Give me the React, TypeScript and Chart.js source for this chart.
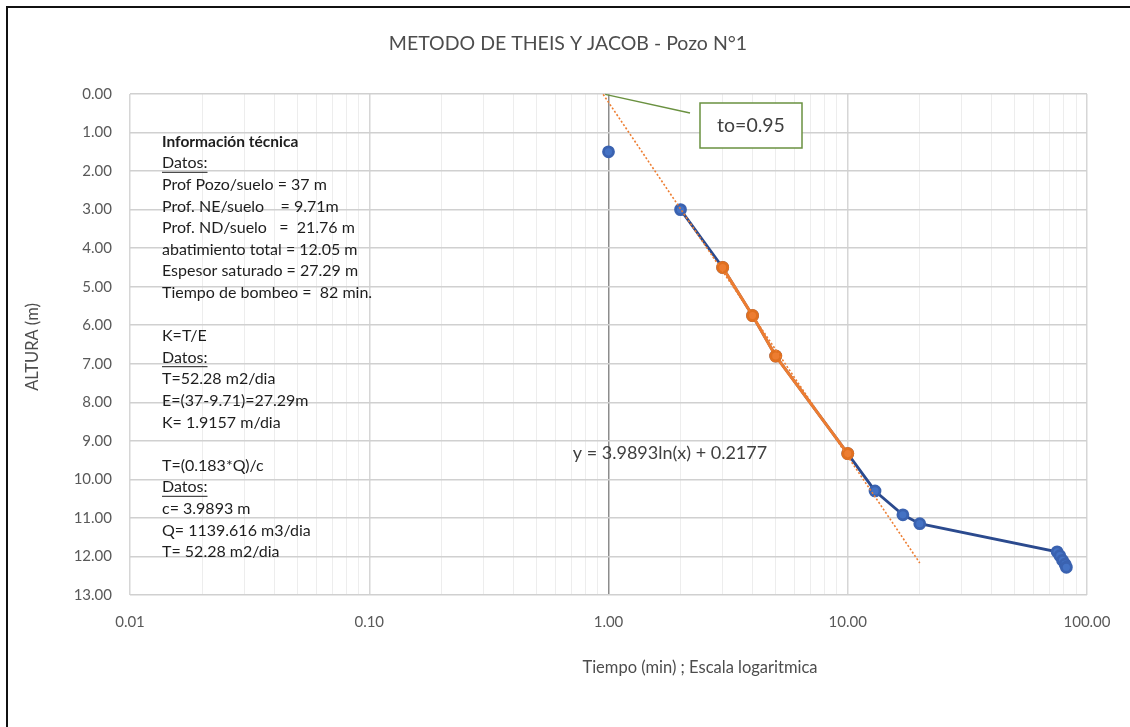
import React, { useEffect, useRef } from 'react';
import { Chart, registerables } from 'chart.js';
Chart.register(...registerables);

// ---- data ----
const timeMin = [1, 2, 3, 4, 5, 10, 13, 17, 20, 75, 77, 79, 81, 82];
const drawdown = [1.5, 3.0, 4.5, 5.75, 6.8, 9.33, 10.3, 10.92, 11.15, 11.88, 11.98, 12.1, 12.2, 12.28];
const fitTime = [3, 4, 5, 10];
const fitDrawdown = [4.5, 5.75, 6.8, 9.33];
const trendTime = [0.95, 20];
const trendDrawdown = [0.01, 12.17];

const decadeTicks = [0.01, 0.1, 1, 10, 100];
const decadeLabels = ['0.01', '0.10', '1.00', '10.00', '100.00'];
const yTicks = [0, 1, 2, 3, 4, 5, 6, 7, 8, 9, 10, 11, 12, 13];
const yLabels = ['0.00', '1.00', '2.00', '3.00', '4.00', '5.00', '6.00', '7.00', '8.00', '9.00', '10.00', '11.00', '12.00', '13.00'];

const titleText = 'METODO DE THEIS Y JACOB - Pozo N°1';
const xTitle = 'Tiempo (min) ; Escala logaritmica';
const yTitle = 'ALTURA (m)';
const equationText = 'y = 3.9893ln(x) + 0.2177';
const calloutText = 'to=0.95';

const infoLines = [
  'Información técnica',
  'Datos:',
  'Prof Pozo/suelo = 37 m',
  'Prof. NE/suelo    = 9.71m',
  'Prof. ND/suelo   =  21.76 m',
  'abatimiento total = 12.05 m',
  'Espesor saturado = 27.29 m',
  'Tiempo de bombeo =  82 min.',
  '',
  'K=T/E',
  'Datos:',
  'T=52.28 m2/dia',
  'E=(37-9.71)=27.29m',
  'K= 1.9157 m/dia',
  '',
  'T=(0.183*Q)/c',
  'Datos:',
  'c= 3.9893 m',
  'Q= 1139.616 m3/dia',
  'T= 52.28 m2/dia',
];

const FONT = 'Lato, "Open Sans", sans-serif';

const gridValues: number[] = [];
for (let i = 0; i < decadeTicks.length - 1; i++) {
  for (let k = 1; k <= 9; k++) gridValues.push(k === 1 ? decadeTicks[i] : k * decadeTicks[i]);
}
gridValues.push(decadeTicks[decadeTicks.length - 1]);

const overlayPlugin = {
  id: 'overlay',
  afterDraw(chart: any) {
    const ctx = chart.ctx;
    const xs = chart.scales.x;
    const ys = chart.scales.y;
    ctx.save();
    // outer frame (top + left)
    ctx.strokeStyle = '#111';
    ctx.lineWidth = 2;
    ctx.beginPath();
    ctx.moveTo(7, 727);
    ctx.lineTo(7, 7);
    ctx.lineTo(1130, 7);
    ctx.stroke();

    // title
    ctx.fillStyle = '#4d4d4d';
    ctx.textAlign = 'center';
    ctx.textBaseline = 'middle';
    ctx.font = `19.5px ${FONT}`;
    ctx.fillText(titleText, 568, 44);

    // axis titles
    ctx.font = `16.5px ${FONT}`;
    ctx.fillText(xTitle, 700, 668);
    ctx.save();
    ctx.translate(33, 347);
    ctx.rotate(-Math.PI / 2);
    ctx.fillText(yTitle, 0, 0);
    ctx.restore();

    // info text
    ctx.textAlign = 'left';
    ctx.fillStyle = '#1e1e1e';
    const lh = 21.6;
    infoLines.forEach((t, i) => {
      if (!t) return;
      const y = 141.7 + i * lh;
      ctx.font = i === 0 ? `bold 15.5px ${FONT}` : `16px ${FONT}`;
      ctx.fillText(t, 162, y);
      if (t === 'Datos:') {
        const w = ctx.measureText(t).width;
        ctx.strokeStyle = '#1e1e1e';
        ctx.lineWidth = 1;
        ctx.beginPath();
        ctx.moveTo(162, y + 9);
        ctx.lineTo(162 + w, y + 9);
        ctx.stroke();
      }
    });

    // equation
    ctx.fillStyle = '#404040';
    ctx.textAlign = 'center';
    ctx.font = `18px ${FONT}`;
    ctx.fillText(equationText, 670, 453);

    // callout
    const ax = xs.getPixelForValue(trendTime[0]);
    const ay = ys.getPixelForValue(trendDrawdown[0]);
    ctx.strokeStyle = '#6a9140';
    ctx.lineWidth = 1.5;
    ctx.beginPath();
    ctx.moveTo(ax + 2, ay);
    ctx.lineTo(690, 113);
    ctx.stroke();
    ctx.fillStyle = '#ffffff';
    ctx.fillRect(700, 103, 102, 45);
    ctx.strokeRect(700, 103, 102, 45);
    ctx.fillStyle = '#404040';
    ctx.font = `19.5px ${FONT}`;
    ctx.fillText(calloutText, 751, 126);
    ctx.restore();
  },
};

export default function App() {
  const ref = useRef<HTMLCanvasElement | null>(null);
  useEffect(() => {
    document.body.style.margin = '0';
    const canvas = ref.current!;
    const chart = new Chart(canvas, {
      type: 'scatter',
      data: {
        datasets: [
          {
            label: 'trend',
            data: trendTime.map((t, i) => ({ x: t, y: trendDrawdown[i] })),
            showLine: true,
            borderColor: '#ed7d31',
            borderWidth: 1.6,
            borderDash: [2, 2],
            pointRadius: 0,
            order: 0,
          },
          {
            label: 'fit',
            data: fitTime.map((t, i) => ({ x: t, y: fitDrawdown[i] })),
            showLine: true,
            borderColor: '#ed7d31',
            borderWidth: 3,
            backgroundColor: '#ed7d31',
            pointBackgroundColor: '#ed7d31',
            pointBorderColor: '#e07020',
            pointRadius: 5,
            order: 1,
          },
          {
            label: 'obs',
            data: timeMin.map((t, i) => ({ x: t, y: drawdown[i] })),
            showLine: true,
            borderColor: '#2b4a8e',
            borderWidth: 2.8,
            backgroundColor: '#4472c4',
            pointBackgroundColor: '#4472c4',
            pointBorderColor: '#3a62b0',
            pointRadius: 5,
            segment: {
              borderColor: (c: any) => (c.p0DataIndex === 0 ? 'rgba(0,0,0,0)' : '#2b4a8e'),
            },
            order: 2,
          },
        ],
      },
      options: {
        animation: false,
        responsive: false,
        maintainAspectRatio: false,
        layout: { padding: { top: 94, right: 43, bottom: 0, left: 0 } },
        plugins: { legend: { display: false }, tooltip: { enabled: false }, title: { display: false } },
        scales: {
          x: {
            type: 'logarithmic',
            min: 0.01,
            max: 100,
            afterFit: (s: any) => { s.height = 132; },
            afterBuildTicks: (s: any) => { s.ticks = gridValues.map((v) => ({ value: v })); },
            ticks: {
              autoSkip: false,
              maxRotation: 0,
              padding: 18,
              color: '#595959',
              font: { family: FONT, size: 15 },
              callback: (v: any) => {
                const i = decadeTicks.indexOf(Number(v));
                return i >= 0 ? decadeLabels[i] : '';
              },
            },
            grid: {
              drawTicks: false,
              color: (c: any) => {
                const v = c.tick ? c.tick.value : 0;
                if (v === 1) return '#8c8c8c';
                return decadeTicks.indexOf(v) >= 0 ? '#d6d6d6' : '#ededed';
              },
              lineWidth: (c: any) => {
                const v = c.tick ? c.tick.value : 0;
                return decadeTicks.indexOf(v) >= 0 ? 1.5 : 1;
              },
            },
            border: { display: false },
          },
          y: {
            type: 'linear',
            min: 0,
            max: 13,
            reverse: true,
            afterFit: (s: any) => { s.width = 130; },
            afterBuildTicks: (s: any) => { s.ticks = yTicks.map((v) => ({ value: v })); },
            ticks: {
              padding: 18,
              color: '#595959',
              font: { family: FONT, size: 15 },
              callback: (v: any) => {
                const i = yTicks.indexOf(Number(v));
                return i >= 0 ? yLabels[i] : '';
              },
            },
            grid: { drawTicks: false, color: '#d0d0d0', lineWidth: 1.5 },
            border: { display: false },
          },
        },
      },
      plugins: [overlayPlugin],
    });
    return () => chart.destroy();
  }, []);
  return (
    <div style={{ position: 'relative', width: 1130, height: 727, background: '#fff' }}>
      <canvas ref={ref} width={1130} height={727} style={{ display: 'block', width: 1130, height: 727 }} />
    </div>
  );
}
